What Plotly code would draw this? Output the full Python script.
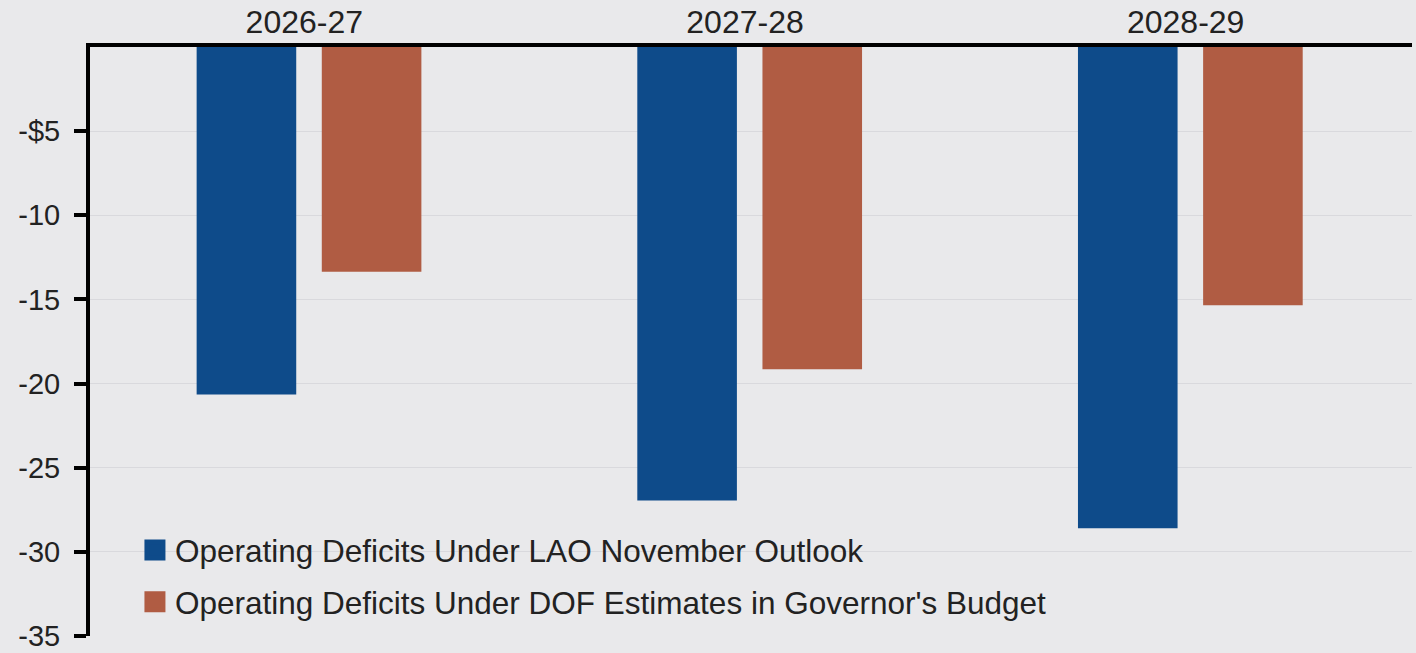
import plotly.graph_objects as go

categories = ["2026-27", "2027-28", "2028-29"]
lao_values = [-20.65, -26.95, -28.6]
dof_values = [-13.35, -19.15, -15.35]
series_names = [
    "Operating Deficits Under LAO November Outlook",
    "Operating Deficits Under DOF Estimates in Governor's Budget",
]
tick_values = [-5, -10, -15, -20, -25, -30, -35]
tick_labels = ["-$5", "-10", "-15", "-20", "-25", "-30", "-35"]

BLUE = "#0e4b8a"
ORANGE = "#b05c43"
BG = "#e9e9eb"
GRID = "#d9d9dd"
FONT = "Liberation Sans, Arial, sans-serif"

fig = go.Figure()
fig.add_trace(go.Bar(x=categories, y=lao_values, name=series_names[0],
                     marker=dict(color=BLUE, line=dict(width=0)),
                     width=0.226, offset=-0.258, showlegend=False))
fig.add_trace(go.Bar(x=categories, y=dof_values, name=series_names[1],
                     marker=dict(color=ORANGE, line=dict(width=0)),
                     width=0.226, offset=0.026, showlegend=False))

# legend entries
for name, col, grp in [(series_names[0], BLUE, "a"), (series_names[1], ORANGE, "b")]:
    fig.add_trace(go.Scatter(x=[None], y=[None], mode="markers", name=name,
                             legendgroup=grp,
                             marker=dict(symbol="square", size=16, color=col,
                                         line=dict(color=col, width=5))))

# mask gridline behind the legend
fig.add_shape(type="rect", xref="paper", yref="y", x0=0.019, x1=0.658,
              y0=-30.4, y1=-29.6, fillcolor=BG, line=dict(width=0), layer="between")

fig.update_layout(
    width=1416, height=653,
    margin=dict(l=90, r=4, t=47, b=17, autoexpand=False),
    paper_bgcolor=BG, plot_bgcolor=BG,
    font=dict(family=FONT, color="#222222", size=29),
    barmode="group",
    legend=dict(x=0.034, xanchor="left", y=0.192, yanchor="top",
                bgcolor="rgba(0,0,0,0)", tracegroupgap=8,
                font=dict(size=31.5, family=FONT, color="#222222")),
    xaxis=dict(side="top", showline=True, linecolor="black", linewidth=4,
               ticks="", showgrid=False, tickfont=dict(size=32),
               ticklabelshift=-6, ticklabelstandoff=-3, automargin=False,
               range=[-0.5, 2.5], zeroline=False),
    yaxis=dict(range=[-35, 0], tickvals=tick_values, ticktext=tick_labels,
               showline=True, linecolor="black", linewidth=4,
               ticks="outside", ticklen=12, tickwidth=4, tickcolor="black",
               showgrid=True, gridcolor=GRID, gridwidth=1, zeroline=False,
               tickfont=dict(size=29), ticklabelstandoff=8,
               ticklabeloverflow="allow", automargin=False),
)

fig.write_html("out.html")
